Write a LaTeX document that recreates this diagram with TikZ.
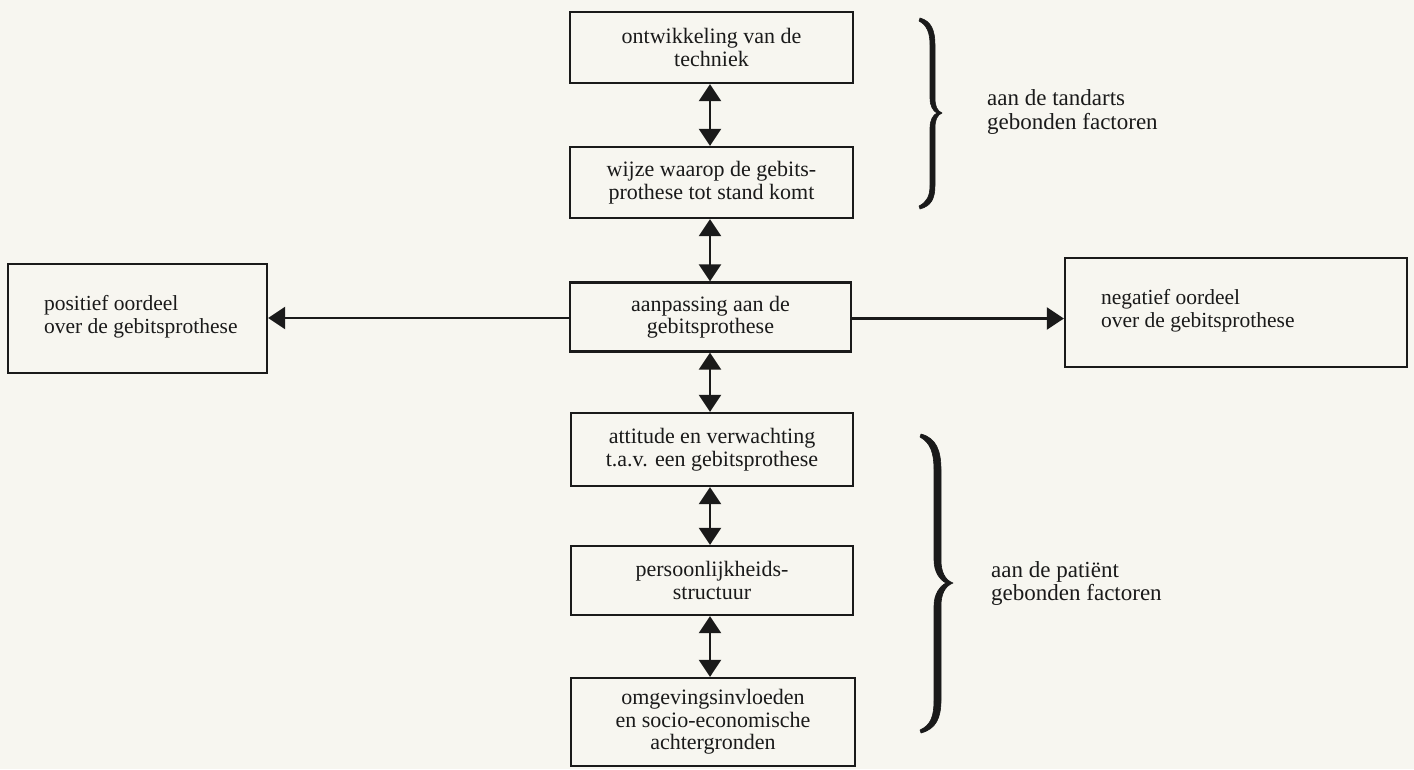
\documentclass[tikz,border=0pt]{standalone}
\usepackage{fontspec}
\setmainfont{Liberation Serif}
\usetikzlibrary{arrows.meta}
\definecolor{paper}{HTML}{F7F6F0}
\definecolor{ink}{HTML}{1A1A1A}
\begin{document}
\begin{tikzpicture}[x=1pt,y=-1pt,
  box/.style={draw=ink,line width=2.2pt,minimum width=#1,inner sep=0pt,align=center,
    font=\fontsize{22}{22.5}\selectfont,text=ink},
  sidebox/.style={draw=ink,line width=2.2pt,inner sep=0pt},
  sidetext/.style={align=left,anchor=west,inner sep=0pt,font=\fontsize{21.5}{22.5}\selectfont,text=ink},
  lbl/.style={align=left,anchor=west,inner sep=0pt,font=\fontsize{23}{23.5}\selectfont,text=ink},
  dbl/.style={draw=ink,line width=2.2pt,{Triangle[width=22pt,length=17pt]}-{Triangle[width=22pt,length=17pt]}},
  sgl/.style={draw=ink,line width=2.2pt,-{Triangle[width=22pt,length=17pt]}},
  brc/.style={fill=ink,draw=ink,line width=0.6pt,line join=round}]
\fill[paper] (0,0) rectangle (1414,769);
\useasboundingbox (0,0) rectangle (1414,769);

\coordinate (ax) at (710,0);

\node[box=283pt,minimum height=71pt] (b1) at (711.5,47.5) {ontwikkeling van de\\techniek};
\node[box=283pt,minimum height=71pt] (b2) at (711.5,182.5) {wijze waarop de gebits-\\prothese tot stand komt};
\node[box=281pt,minimum height=69pt] (b3) at (710.5,317) {aanpassing aan de\\gebitsprothese};
\node[box=282pt,minimum height=73pt] (b4) at (712,449.5) {attitude en verwachting\\t.a.v. een gebitsprothese};
\node[box=282pt,minimum height=69pt] (b5) at (712,580.5) {persoonlijkheids-\\structuur};
\node[box=284pt,minimum height=88pt] (b6) at (713,722) {omgevingsinvloeden\\en socio-economische\\achtergronden};

\node[sidebox,minimum width=259pt,minimum height=109pt] (lb) at (137.5,318.5) {};
\node[sidetext] (lt) at ([xshift=37pt,yshift=2pt]lb.west) {positief oordeel\\over de gebitsprothese};
\node[sidebox,minimum width=342pt,minimum height=109pt] (rb) at (1236,312.5) {};
\node[sidetext] (rt) at ([xshift=37pt,yshift=2pt]rb.west) {negatief oordeel\\over de gebitsprothese};

\draw[dbl] (b1.south -| ax) -- (b2.north -| ax);
\draw[dbl] (b2.south -| ax) -- (b3.north -| ax);
\draw[dbl] (b3.south -| ax) -- (b4.north -| ax);
\draw[dbl] (b4.south -| ax) -- (b5.north -| ax);
\draw[dbl] (b5.south -| ax) -- (b6.north -| ax);
\draw[sgl] ([yshift=-1pt]b3.west) -- ([yshift=-1pt]b3.west -| lb.east);
\draw[sgl] ([yshift=-1.5pt]b3.east) -- ([yshift=-1.5pt]b3.east -| rb.west);

% upper brace
\path[brc] (920,18) .. controls (931,21) and (935,30) .. (935,45) -- (935,98)
  .. controls (935,106) and (937,111) .. (942,113)
  .. controls (937,115) and (935,120) .. (935,128) -- (935,185)
  .. controls (935,199) and (931,206) .. (920,209)
  -- (919,206) .. controls (927,202) and (930,196) .. (930,185) -- (930,128)
  .. controls (930,120) and (933,115) .. (937,113)
  .. controls (933,111) and (930,106) .. (930,98) -- (930,45)
  .. controls (930,33) and (927,25) .. (919,21) -- cycle;
\node[lbl] (ul) at (987,112) {aan de tandarts\\gebonden factoren};

% lower brace
\path[brc] (921,434) .. controls (936,438) and (941,450) .. (941,470) -- (941,560)
  .. controls (941,572) and (945,580) .. (953,583)
  .. controls (945,586) and (941,594) .. (941,606) -- (941,700)
  .. controls (941,718) and (936,729) .. (921,733)
  -- (920,730) .. controls (931,725) and (934,716) .. (934,700) -- (934,606)
  .. controls (934,594) and (940,586) .. (946,583)
  .. controls (940,580) and (934,572) .. (934,560) -- (934,470)
  .. controls (934,454) and (931,443) .. (920,437) -- cycle;
\node[lbl] (ll) at (991,583.5) {aan de patiënt\\gebonden factoren};
\end{tikzpicture}
\end{document}
